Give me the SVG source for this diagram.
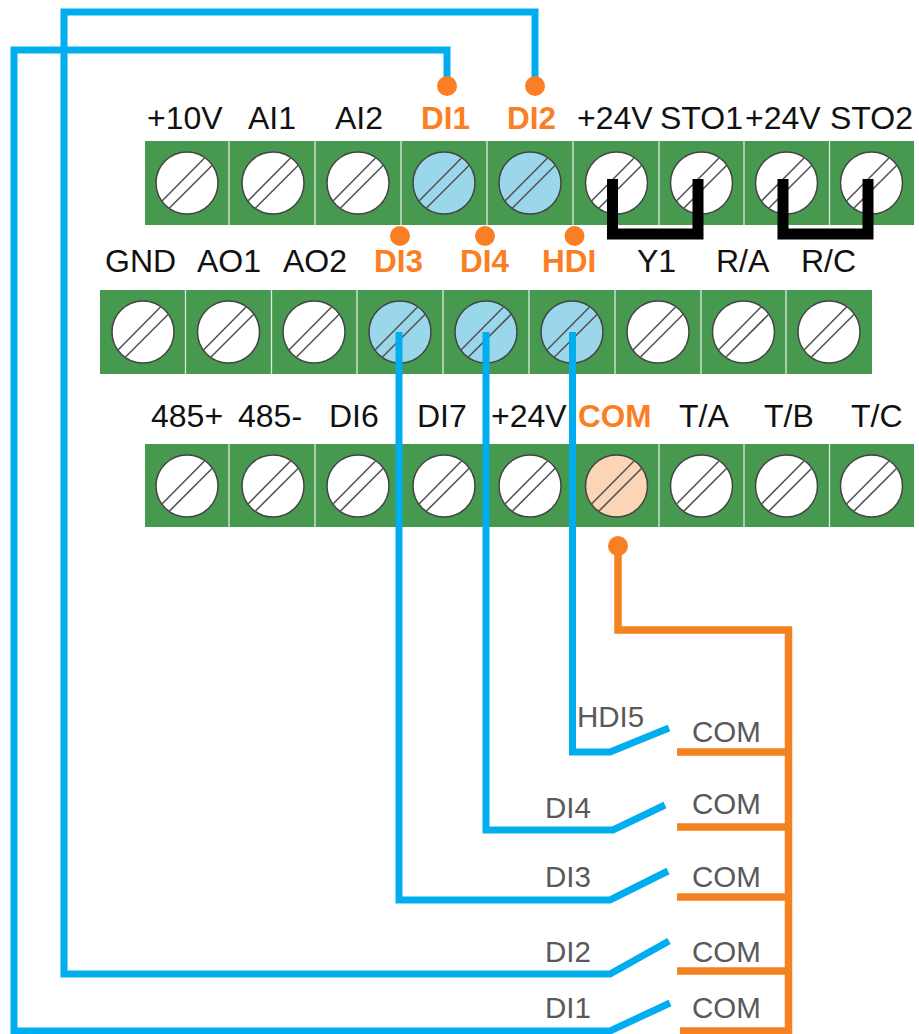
<svg xmlns="http://www.w3.org/2000/svg" xmlns:xlink="http://www.w3.org/1999/xlink" width="919" height="1034" viewBox="0 0 919 1034">
<style>
text{font-family:"Liberation Sans",Arial,sans-serif}
.t{font-size:32px;fill:#111}
.o{font-size:31.500px;font-weight:bold;fill:#FA7F24}
.g{font-size:29.500px;fill:#595959}
.bar{fill:#479950}
.div{stroke:#dfe8df;stroke-width:1.3}
.w{fill:none;stroke:#00AEEF;stroke-width:7}
.or{fill:none;stroke:#F58220;stroke-width:7.500}
.k{fill:none;stroke:#000;stroke-width:11}
.dot{fill:#FA7F24}
.ring{stroke:#444;stroke-width:1.5}
.slot{stroke:#555;stroke-width:1.6;fill:none}
</style>
<defs>
<g id="slots"><path class="slot" d="M-25 18L18-25.500M-18 25.500L25.500-18"/></g>
</defs>
<rect width="919" height="1034" fill="#fff"/>
<g id="strip1">
<rect class="bar" x="145" y="141" width="769" height="84"/>
<path class="div" d="M229 141V225M315 141V225M401 141V225M487 141V225M573 141V225M659 141V225M744 141V225M829.500 141V225"/>
</g>
<g id="strip2">
<rect class="bar" x="100" y="290" width="772" height="84"/>
<path class="div" d="M185.500 290V374M271.500 290V374M357 290V374M443 290V374M529 290V374M615 290V374M701 290V374M786 290V374"/>
</g>
<g id="strip3">
<rect class="bar" x="145" y="444" width="769" height="83"/>
<path class="div" d="M229 444V527M315 444V527M401 444V527M487 444V527M573 444V527M659 444V527M744 444V527M829.500 444V527"/>
</g>
<g id="t-10v"><circle class="ring" cx="187" cy="183" r="31" fill="#fff"/><use xlink:href="#slots" x="187" y="183"/><text class="t" x="147" y="129">+10V</text></g>
<g id="t-ai1"><circle class="ring" cx="273" cy="183" r="31" fill="#fff"/><use xlink:href="#slots" x="273" y="183"/><text class="t" x="248" y="129">AI1</text></g>
<g id="t-ai2"><circle class="ring" cx="358" cy="183" r="31" fill="#fff"/><use xlink:href="#slots" x="358" y="183"/><text class="t" x="335" y="129">AI2</text></g>
<g id="t-di1"><circle class="ring" cx="444" cy="183" r="31" fill="#9BD7EA"/><use xlink:href="#slots" x="444" y="183"/><text class="o" x="421" y="129">DI1</text></g>
<g id="t-di2"><circle class="ring" cx="530" cy="183" r="31" fill="#9BD7EA"/><use xlink:href="#slots" x="530" y="183"/><text class="o" x="507" y="129">DI2</text></g>
<g id="t-24a"><circle class="ring" cx="616.500" cy="183" r="31" fill="#fff"/><use xlink:href="#slots" x="616.500" y="183"/><text class="t" x="577" y="129">+24V</text></g>
<g id="t-sto1"><circle class="ring" cx="701.500" cy="183" r="31" fill="#fff"/><use xlink:href="#slots" x="701.500" y="183"/><text class="t" x="660" y="129">STO1</text></g>
<g id="t-24b"><circle class="ring" cx="786.500" cy="183" r="31" fill="#fff"/><use xlink:href="#slots" x="786.500" y="183"/><text class="t" x="745" y="129">+24V</text></g>
<g id="t-sto2"><circle class="ring" cx="871.500" cy="183" r="31" fill="#fff"/><use xlink:href="#slots" x="871.500" y="183"/><text class="t" x="830" y="129">STO2</text></g>
<g id="t-gnd"><circle class="ring" cx="143" cy="332" r="31" fill="#fff"/><use xlink:href="#slots" x="143" y="332"/><text class="t" x="105" y="272">GND</text></g>
<g id="t-ao1"><circle class="ring" cx="228.500" cy="332" r="31" fill="#fff"/><use xlink:href="#slots" x="228.500" y="332"/><text class="t" x="197" y="272">AO1</text></g>
<g id="t-ao2"><circle class="ring" cx="314" cy="332" r="31" fill="#fff"/><use xlink:href="#slots" x="314" y="332"/><text class="t" x="283" y="272">AO2</text></g>
<g id="t-di3"><circle class="ring" cx="400" cy="332" r="31" fill="#9BD7EA"/><use xlink:href="#slots" x="400" y="332"/><text class="o" x="374" y="272">DI3</text></g>
<g id="t-di4"><circle class="ring" cx="486" cy="332" r="31" fill="#9BD7EA"/><use xlink:href="#slots" x="486" y="332"/><text class="o" x="460" y="272">DI4</text></g>
<g id="t-hdi"><circle class="ring" cx="572" cy="332" r="31" fill="#9BD7EA"/><use xlink:href="#slots" x="572" y="332"/><text class="o" x="542" y="272">HDI</text></g>
<g id="t-y1"><circle class="ring" cx="658" cy="332" r="31" fill="#fff"/><use xlink:href="#slots" x="658" y="332"/><text class="t" x="637" y="272">Y1</text></g>
<g id="t-ra"><circle class="ring" cx="743.500" cy="332" r="31" fill="#fff"/><use xlink:href="#slots" x="743.500" y="332"/><text class="t" x="716" y="272">R/A</text></g>
<g id="t-rc"><circle class="ring" cx="829" cy="332" r="31" fill="#fff"/><use xlink:href="#slots" x="829" y="332"/><text class="t" x="801" y="272">R/C</text></g>
<g id="t-485p"><circle class="ring" cx="187" cy="486" r="31" fill="#fff"/><use xlink:href="#slots" x="187" y="486"/><text class="t" x="151" y="427">485+</text></g>
<g id="t-485m"><circle class="ring" cx="273" cy="486" r="31" fill="#fff"/><use xlink:href="#slots" x="273" y="486"/><text class="t" x="238" y="427">485-</text></g>
<g id="t-di6"><circle class="ring" cx="358" cy="486" r="31" fill="#fff"/><use xlink:href="#slots" x="358" y="486"/><text class="t" x="329" y="427">DI6</text></g>
<g id="t-di7"><circle class="ring" cx="444" cy="486" r="31" fill="#fff"/><use xlink:href="#slots" x="444" y="486"/><text class="t" x="417" y="427">DI7</text></g>
<g id="t-24c"><circle class="ring" cx="530" cy="486" r="31" fill="#fff"/><use xlink:href="#slots" x="530" y="486"/><text class="t" x="491" y="427">+24V</text></g>
<g id="t-com"><circle class="ring" cx="616.500" cy="486" r="31" fill="#FBD5B5"/><use xlink:href="#slots" x="616.500" y="486"/><text class="o" x="578" y="427">COM</text></g>
<g id="t-ta"><circle class="ring" cx="701.500" cy="486" r="31" fill="#fff"/><use xlink:href="#slots" x="701.500" y="486"/><text class="t" x="679" y="427">T/A</text></g>
<g id="t-tb"><circle class="ring" cx="786.500" cy="486" r="31" fill="#fff"/><use xlink:href="#slots" x="786.500" y="486"/><text class="t" x="764" y="427">T/B</text></g>
<g id="t-tc"><circle class="ring" cx="871.500" cy="486" r="31" fill="#fff"/><use xlink:href="#slots" x="871.500" y="486"/><text class="t" x="851" y="427">T/C</text></g>
<g id="connectors">
<path class="k" d="M612.500 179V234H698V179"/>
<path class="k" d="M783 179V234H868V179"/>
<path class="w" d="M447 86V50H14V1031H610L670 1003"/>
<path class="w" d="M535 86V12H64V974H610L669 941"/>
<path class="w" d="M399 332V900H610L668 871"/>
<path class="w" d="M486 332V830H613L665 805"/>
<path class="w" d="M572.500 332V752H610L669 728"/>
<path class="or" d="M618 546V630H788.500V1034"/>
<path class="or" d="M677 752H788M677 827H788M677 897H788M677 971H788M680 1031H788"/>
<circle class="dot" cx="447" cy="86" r="10"/>
<circle class="dot" cx="535" cy="86" r="10"/>
<circle class="dot" cx="400" cy="236" r="10"/>
<circle class="dot" cx="485" cy="236" r="10"/>
<circle class="dot" cx="574.500" cy="236" r="10"/>
<circle class="dot" cx="618" cy="546" r="10"/>
</g>
<g id="switch-labels">
<text class="g" x="577" y="727">HDI5</text>
<text class="g" x="545" y="818">DI4</text>
<text class="g" x="545" y="887">DI3</text>
<text class="g" x="545" y="962">DI2</text>
<text class="g" x="545" y="1018">DI1</text>
<text class="g" x="692" y="742">COM</text>
<text class="g" x="692" y="814">COM</text>
<text class="g" x="692" y="887">COM</text>
<text class="g" x="692" y="962">COM</text>
<text class="g" x="692" y="1018">COM</text>
</g>
</svg>
